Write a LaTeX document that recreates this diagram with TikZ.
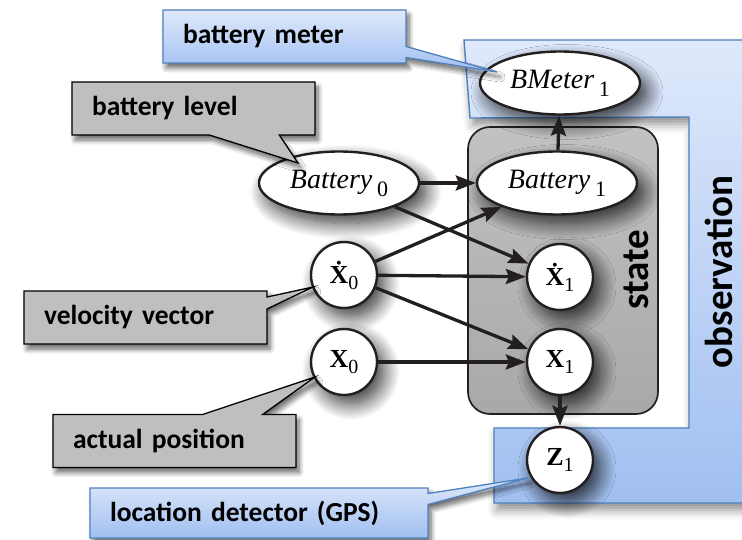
\documentclass[tikz,border=0pt]{standalone}
\usepackage{fontspec}
\setmainfont{Carlito}
\newfontfamily\tnr{Liberation Serif}
\usetikzlibrary{arrows.meta,shapes.geometric,shapes.callouts,shadows.blur,calc}

\definecolor{obsblue}{RGB}{79,129,189}
\definecolor{obslight}{RGB}{223,233,251}
\definecolor{obsdark}{RGB}{160,191,241}
\definecolor{ink}{RGB}{35,31,32}
\definecolor{notegray}{RGB}{191,191,191}

\newcommand{\lowsub}[1]{\raisebox{-6pt}{\upshape\mdseries\fontsize{20}{20}\selectfont #1}}
\newcommand{\varsub}[1]{\,\raisebox{-8pt}{\upshape\mdseries\fontsize{22}{22}\selectfont #1}}

\begin{document}
\begin{tikzpicture}[x=1pt, y=-1pt,
  soft/.style      = {blur shadow={shadow blur radius=16pt, shadow xshift=7pt,
                      shadow yshift=-9pt, shadow opacity=80, shadow blur steps=16}},
  var/.style       = {ellipse, draw=ink, line width=2.4pt, fill=white, soft,
                      minimum width=160pt, minimum height=63pt, inner sep=0pt,
                      font=\tnr\itshape\fontsize{28}{30}\selectfont},
  vec/.style       = {circle, draw=ink, line width=2.4pt, fill=white, soft,
                      minimum size=66pt, inner sep=0pt,
                      font=\tnr\bfseries\fontsize{26}{28}\selectfont},
  dep/.style       = {draw=ink, line width=3.3pt,
                      -{Stealth[length=20pt,width=15pt,inset=3pt]}},
  note/.style      = {rectangle callout, draw=black, line width=1.3pt,
                      fill=notegray, text width=203pt, inner xsep=20pt,
                      inner ysep=0pt, minimum height=53pt, align=left,
                      font=\bfseries\fontsize{27.5}{30}\selectfont,
                      blur shadow={shadow blur radius=5pt, shadow xshift=3pt,
                      shadow yshift=-5pt, shadow opacity=60, shadow blur steps=8}},
  bluenote/.style  = {note, draw=obsblue, top color=obslight, bottom color=obsdark},
  region/.style    = {draw=obsblue, line width=1.4pt, top color=obslight,
                      bottom color=obsdark, blur shadow={shadow blur radius=9pt,
                      shadow xshift=3pt, shadow yshift=-7pt, shadow opacity=45}},
  statebox/.style  = {rectangle, rounded corners=22pt, draw=ink, line width=1.7pt,
                      top color=black!24, bottom color=black!34,
                      minimum width=190pt, minimum height=287pt},
  tag/.style       = {rotate=90, font=\bfseries\fontsize{39}{40}\selectfont},
]
  \useasboundingbox (0,0) rectangle (742,540);

  % observation: the blue frame round the sensor nodes
  \path[region] (464,40) -- (748,40) -- (748,503) -- (494,503) -- (494,428)
    -- (689,428) -- (689,117) -- (470,118) -- cycle;
  \node[tag] (obs) at (719,272) {observation};

  \node[statebox] (state) at (563,270.5) {};
  \node[tag] (statetag) at (636,270) {state};

  \node[var] (bmeter) at (560,83)  {BMeter\varsub{1}};
  \node[var] (bat1)   at (557,183) {Battery\varsub{1}};
  \node[var] (bat0)   at (339,183) {Battery\varsub{0}};
  \node[vec] (xd0)    at (344,275) {\.X\lowsub{0}};
  \node[vec] (x0)     at (344,362) {X\lowsub{0}};
  \node[vec] (xd1)    at (560,277) {\.X\lowsub{1}};
  \node[vec] (x1)     at (560,362) {X\lowsub{1}};
  \node[vec] (z1)     at (560,460) {Z\lowsub{1}};

  \draw[dep] (bat0) -- (bat1);
  \draw[dep] (bat0) -- (xd1);
  \draw[dep] (xd0)  -- (bat1);
  \draw[dep] (xd0)  -- (xd1);
  \draw[dep] (xd0)  -- (x1);
  \draw[dep] (x0)   -- (x1);
  \draw[dep] (bat1) -- (bmeter);
  \draw[dep] (x1)   -- (z1);

  % callouts, each pointing into its node
  \node[bluenote, callout pointer width=11pt,
        callout absolute pointer={($(bmeter)+(-63,-11)$)}]
        (bmnote) at (284.5,36.5) {battery meter};
  \node[note, callout pointer width=70pt,
        callout absolute pointer={($(bat0)+(-41,-20)$)}]
        (blnote) at (193.5,108.5) {battery level};
  \node[note, callout pointer width=12pt,
        callout absolute pointer={($(xd0)+(-31,12)$)}]
        (vvnote) at (145.5,317.5) {velocity vector};
  \node[note, callout pointer width=60pt,
        callout absolute pointer={($(x0)+(-29,15)$)}]
        (apnote) at (174.5,441) {actual position};
  \node[bluenote, text width=298pt, minimum height=50pt, callout pointer width=11pt,
        callout absolute pointer={($(z1)+(-32,18)$)}]
        (ldnote) at (259,513) {location detector (GPS)};
\end{tikzpicture}
\end{document}
